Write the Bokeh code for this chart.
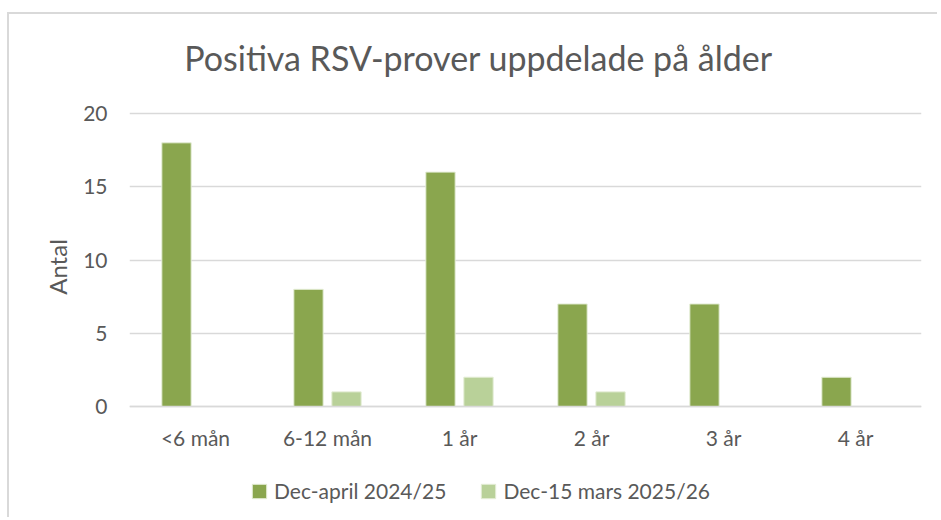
from bokeh.plotting import figure
from bokeh.models import FactorRange, Range1d, Legend, LegendItem, FixedTicker, ColumnDataSource, Label
from bokeh.transform import dodge
from bokeh.embed import file_html
from bokeh.resources import INLINE

title_text = "Positiva RSV-prover uppdelade på ålder"
y_label = "Antal"
categories = ["<6 mån", "6-12 mån", "1 år", "2 år", "3 år", "4 år"]
series_names = ["Dec-april 2024/25", "Dec-15 mars 2025/26"]
values_2024 = [18, 8, 16, 7, 7, 2]
values_2025 = [0, 1, 2, 1, 0, 0]
y_ticks = [0, 5, 10, 15, 20]

FONT = "Lato"
TXT = "#595959"
GRID = "#D9D9D9"
DARK = "#8AA64E"
LIGHT = "#B9D199"

src = ColumnDataSource(dict(cat=categories, a=values_2024, b=values_2025))

# frame spans the whole canvas height; value axis 0..20 occupies the middle part
p = figure(
    width=930, height=505,
    x_range=FactorRange(*categories),
    y_range=Range1d(-7.713, 26.76),
    output_backend="svg", toolbar_location=None,
    min_border_left=120, min_border_right=18, min_border_bottom=0, min_border_top=0,
)
p.styles = {"margin-left": "7px", "margin-top": "12px",
            "border-left": "2px solid #D9D9D9", "border-top": "2px solid #D9D9D9"}

r1 = p.vbar(x=dodge("cat", -0.144, range=p.x_range), top="a", width=0.222, source=src,
            fill_color=DARK, line_color="#E4EDD6", line_width=1)
r2 = p.vbar(x=dodge("cat", 0.144, range=p.x_range), top="b", width=0.222, source=src,
            fill_color=LIGHT, line_color="#E4EDD6", line_width=1)

p.add_layout(Label(x=2.644, y=23.83, text=title_text, text_align="center",
                   text_baseline="alphabetic", text_font=FONT, text_font_size="34px",
                   text_color=TXT))

p.outline_line_color = None
p.background_fill_color = "white"
p.border_fill_color = "white"

p.xgrid.grid_line_color = None
p.ygrid.grid_line_color = GRID
p.ygrid.grid_line_width = 1.5
p.yaxis.ticker = FixedTicker(ticks=y_ticks)

p.yaxis.axis_line_color = None
p.yaxis.major_tick_line_color = None
p.yaxis.minor_tick_line_color = None
p.yaxis.major_label_text_font = FONT
p.yaxis.major_label_text_font_size = "21px"
p.yaxis.major_label_text_color = TXT
p.yaxis.major_label_standoff = 16
p.yaxis.axis_label = y_label
p.yaxis.axis_label_text_font = FONT
p.yaxis.axis_label_text_font_size = "24px"
p.yaxis.axis_label_text_font_style = "normal"
p.yaxis.axis_label_text_color = TXT
p.yaxis.axis_label_standoff = 8

p.xaxis.fixed_location = 0
p.xaxis.axis_line_color = GRID
p.xaxis.axis_line_width = 1.5
p.xaxis.major_tick_line_color = None
p.xaxis.minor_tick_line_color = None
p.xaxis.major_label_text_font = FONT
p.xaxis.major_label_text_font_size = "21px"
p.xaxis.major_label_text_color = TXT
p.xaxis.major_label_standoff = 12

legend = Legend(
    items=[LegendItem(label=series_names[0], renderers=[r1]),
           LegendItem(label=series_names[1], renderers=[r2])],
    orientation="horizontal",
    location=(121, 16),
    label_text_font=FONT, label_text_font_size="21px", label_text_color=TXT,
    glyph_width=18, glyph_height=18, label_standoff=6, spacing=33,
    border_line_color=None, background_fill_alpha=0, padding=4, margin=0,
)
p.add_layout(legend, "center")

open("out.html", "w").write(file_html(p, INLINE))
